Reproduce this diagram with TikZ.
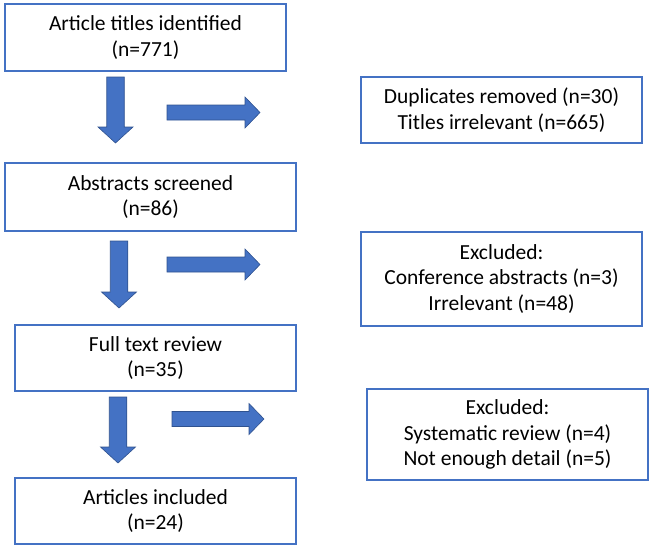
\documentclass[tikz,border=0pt]{standalone}
\usepackage{fontspec}
\setmainfont{Carlito}
\definecolor{boxblue}{HTML}{4472C4}
\definecolor{arrowline}{HTML}{2F528F}
\tikzset{
	stagebox/.style={draw=boxblue, line width=1.2pt, fill=white, align=center,
		inner sep=0pt, font=\fontsize{21.5}{25.5}\selectfont},
	blockarrow/.style={fill=boxblue, draw=arrowline, line width=0.6pt, line join=miter}
}
% block arrows: centre/left end, start, tip
\newcommand{\downblock}[3]{%
	\draw [blockarrow] (#1-8.75,#2) -- (#1+8.75,#2) -- (#1+8.75,#3-16) -- (#1+17.5,#3-16)
		-- (#1,#3) -- (#1-17.5,#3-16) -- (#1-8.75,#3-16) -- cycle;}
\newcommand{\rightblock}[3]{%
	\draw [blockarrow] (#1,#2-7.5) -- (#3-15,#2-7.5) -- (#3-15,#2-15.5) -- (#3,#2)
		-- (#3-15,#2+15.5) -- (#3-15,#2+7.5) -- (#1,#2+7.5) -- cycle;}
\begin{document}
\begin{tikzpicture}[x=1pt, y=-1pt]
	\useasboundingbox (0,0) rectangle (652,549);
% Stufen links:
	\node [stagebox, minimum width=281, minimum height=67] (titles) at (145.5,37.5)
		{Article titles identified\\(n=771)};
	\node [stagebox, minimum width=291, minimum height=68] (abstracts) at (150.5,197)
		{Abstracts screened\\(n=86)};
	\node [stagebox, minimum width=281, minimum height=66] (fulltext) at (155.5,358)
		{Full text review\\(n=35)};
	\node [stagebox, minimum width=281, minimum height=66] (included) at (155.5,511)
		{Articles included\\(n=24)};
% Ausschluesse rechts:
	\node [stagebox, minimum width=281, minimum height=66] (removed) at (501.5,110)
		{Duplicates removed (n=30)\\Titles irrelevant (n=665)};
	\node [stagebox, minimum width=281, minimum height=94] (excludedA) at (501.5,279)
		{Excluded:\\Conference abstracts (n=3)\\Irrelevant (n=48)};
	\node [stagebox, minimum width=281, minimum height=91] (excludedB) at (507.5,434.5)
		{Excluded:\\Systematic review (n=4)\\Not enough detail (n=5)};
% Pfeile:
	\downblock{115.5}{77}{143}
	\downblock{119}{241}{308}
	\downblock{118}{397}{463}
	\rightblock{167}{112.5}{260}
	\rightblock{167}{264.5}{260}
	\rightblock{172}{419}{264}
\end{tikzpicture}
\end{document}
